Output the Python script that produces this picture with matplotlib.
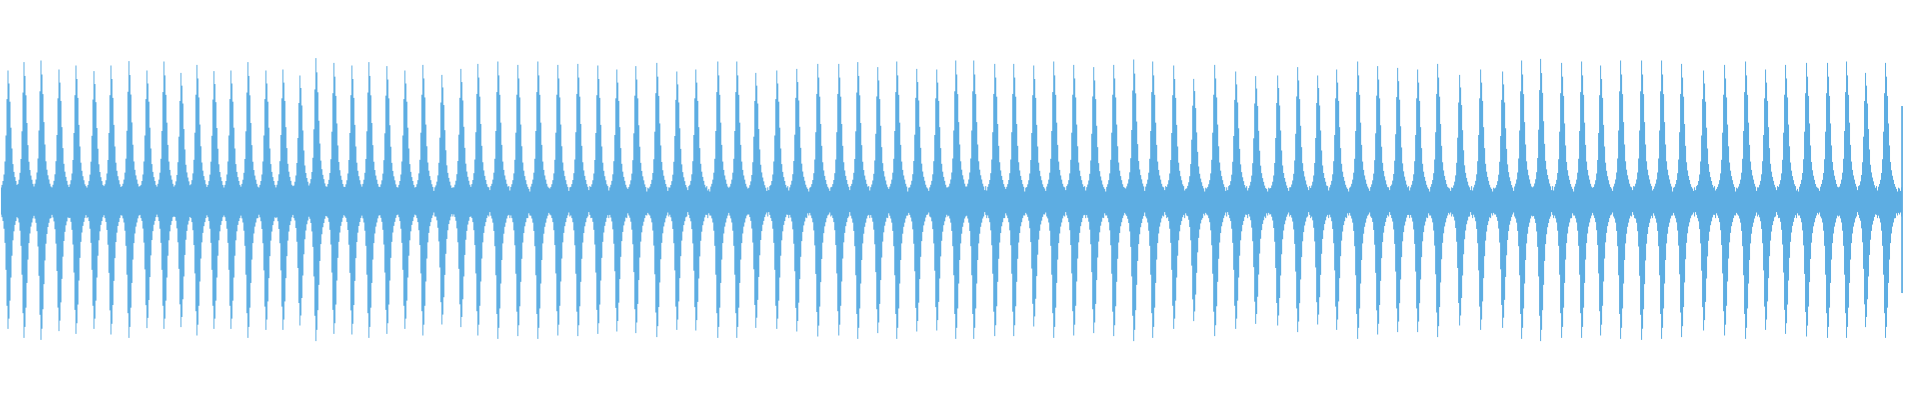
import numpy as np
import matplotlib
matplotlib.use("Agg")
import matplotlib.pyplot as plt

# Beat (heart-sound) positions along the recording, in display columns
beat_pos = [
    6.7, 23.3, 40.3, 58.0, 75.0, 92.7, 110.0, 128.3, 146.0, 163.3,
    180.0, 196.0, 212.7, 229.7, 247.3, 265.0, 281.7, 299.3, 315.3, 333.0,
    350.7, 368.3, 386.0, 404.3, 422.0, 441.3, 460.0, 477.3,
    497.3, 516.7, 537.3, 557.3, 576.7, 596.7, 616.0, 635.0, 655.7, 675.7,
    695.0, 717.0, 735.7, 755.3, 775.7, 795.7, 816.7, 837.7, 856.7, 876.7,
    895.7, 915.7, 935.7, 954.7,
    973.3, 994.3, 1013.3, 1033.3, 1052.7, 1072.7, 1093.3, 1113.3, 1133.3, 1152.3,
    1173.3, 1193.3, 1214.3, 1235.0, 1255.0, 1276.7, 1296.7, 1316.7, 1336.0, 1356.7,
    1376.7, 1396.7, 1417.3, 1437.3,
    1459.3, 1480.0, 1501.7, 1521.3, 1540.3, 1560.7, 1581.0, 1600.3, 1620.0, 1641.0,
    1661.0, 1681.3, 1703.3, 1724.0, 1745.0, 1765.0, 1785.0, 1806.0, 1826.7, 1846.0,
    1865.3, 1885.0,
]

# Positive peak amplitude of each beat
beat_top = [
    0.650, 0.692, 0.700, 0.655, 0.675, 0.647, 0.675, 0.697, 0.650, 0.695,
    0.638, 0.678, 0.647, 0.650, 0.692, 0.650, 0.655, 0.625, 0.712, 0.688,
    0.675, 0.692, 0.672, 0.650, 0.678, 0.628, 0.658, 0.683,
    0.695, 0.678, 0.695, 0.678, 0.683, 0.675, 0.655, 0.672, 0.688, 0.645,
    0.655, 0.695, 0.695, 0.638, 0.650, 0.658, 0.683, 0.683, 0.692, 0.667,
    0.695, 0.658, 0.655, 0.700,
    0.700, 0.683, 0.683, 0.675, 0.695, 0.678, 0.667, 0.678, 0.705, 0.695,
    0.675, 0.608, 0.678, 0.645, 0.622, 0.625, 0.667, 0.625, 0.655, 0.695,
    0.672, 0.663, 0.655, 0.683,
    0.628, 0.655, 0.645, 0.700, 0.708, 0.688, 0.695, 0.675, 0.700, 0.700,
    0.700, 0.683, 0.650, 0.678, 0.695, 0.655, 0.678, 0.688, 0.688, 0.695,
    0.638, 0.688,
]

# Negative peak amplitude (magnitude) of each beat
beat_bot = [
    0.642, 0.687, 0.697, 0.653, 0.667, 0.642, 0.670, 0.687, 0.638, 0.642,
    0.633, 0.675, 0.642, 0.642, 0.687, 0.647, 0.647, 0.625, 0.703, 0.667,
    0.670, 0.687, 0.667, 0.642, 0.675, 0.620, 0.633, 0.675,
    0.692, 0.678, 0.692, 0.675, 0.678, 0.667, 0.655, 0.663, 0.683, 0.647,
    0.650, 0.687, 0.687, 0.637, 0.642, 0.655, 0.680, 0.675, 0.692, 0.663,
    0.692, 0.655, 0.650, 0.692,
    0.692, 0.678, 0.678, 0.630, 0.687, 0.675, 0.663, 0.678, 0.703, 0.687,
    0.642, 0.603, 0.678, 0.642, 0.617, 0.625, 0.658, 0.620, 0.647, 0.692,
    0.670, 0.658, 0.658, 0.683,
    0.625, 0.647, 0.637, 0.692, 0.703, 0.687, 0.687, 0.675, 0.692, 0.697,
    0.692, 0.683, 0.650, 0.675, 0.692, 0.647, 0.667, 0.680, 0.687, 0.687,
    0.633, 0.687,
]

# Envelope of one beat relative to its peak, at column offsets -7 .. +10
beat_offsets = [-7, -6, -5, -4, -3, -2, -1, 0, 1, 2, 3, 4, 5, 6, 7, 8, 9, 10]
beat_shape_top = [0.10, 0.12, 0.15, 0.20, 0.30, 0.50, 0.78, 1.00, 0.90,
                  0.76, 0.56, 0.40, 0.28, 0.22, 0.18, 0.15, 0.12, 0.10]
beat_shape_bot = [0.11, 0.13, 0.16, 0.22, 0.33, 0.54, 0.82, 1.00, 0.92,
                  0.78, 0.60, 0.43, 0.31, 0.24, 0.19, 0.16, 0.13, 0.11]

# Ragged background noise band (repeating texture read across the floor)
floor_top = [0.060, 0.048, 0.066, 0.052, 0.072, 0.050, 0.058, 0.045, 0.064]
floor_bot = [0.070, 0.060, 0.080, 0.058, 0.072, 0.088, 0.064, 0.075, 0.062]

# Truncated final beat at the end of the recording
end_pos = 1902.0
end_top = 0.470
end_bot = 0.463

color = "#5DADE2"

# ---- build column envelope from the values above ----
n_cols = int(round(end_pos)) + 1
cols = np.arange(n_cols)
top = np.array([floor_top[i % len(floor_top)] for i in cols])
bot = np.array([floor_bot[i % len(floor_bot)] for i in cols])
for p, a_t, a_b in zip(beat_pos, beat_top, beat_bot):
    c = int(round(p))
    for off, s_t, s_b in zip(beat_offsets, beat_shape_top, beat_shape_bot):
        k = c + off
        if 0 <= k < n_cols:
            top[k] = max(top[k], a_t * s_t)
            bot[k] = max(bot[k], a_b * s_b)
top[-1] = end_top
bot[-1] = end_bot

fig = plt.figure(figsize=(19.2, 4.0), dpi=100)
ax = fig.add_axes([0, 0, 1, 1])
ax.fill_between(cols, -bot, top, step="mid", color=color, linewidth=0)
ax.vlines(cols[-1], -bot[-1], top[-1], color=color, linewidth=1.2)
ax.set_xlim(-0.5, 1920)
ax.set_ylim(-1, 1)
ax.axis("off")
fig.savefig("out.png", dpi=100, facecolor="white")
